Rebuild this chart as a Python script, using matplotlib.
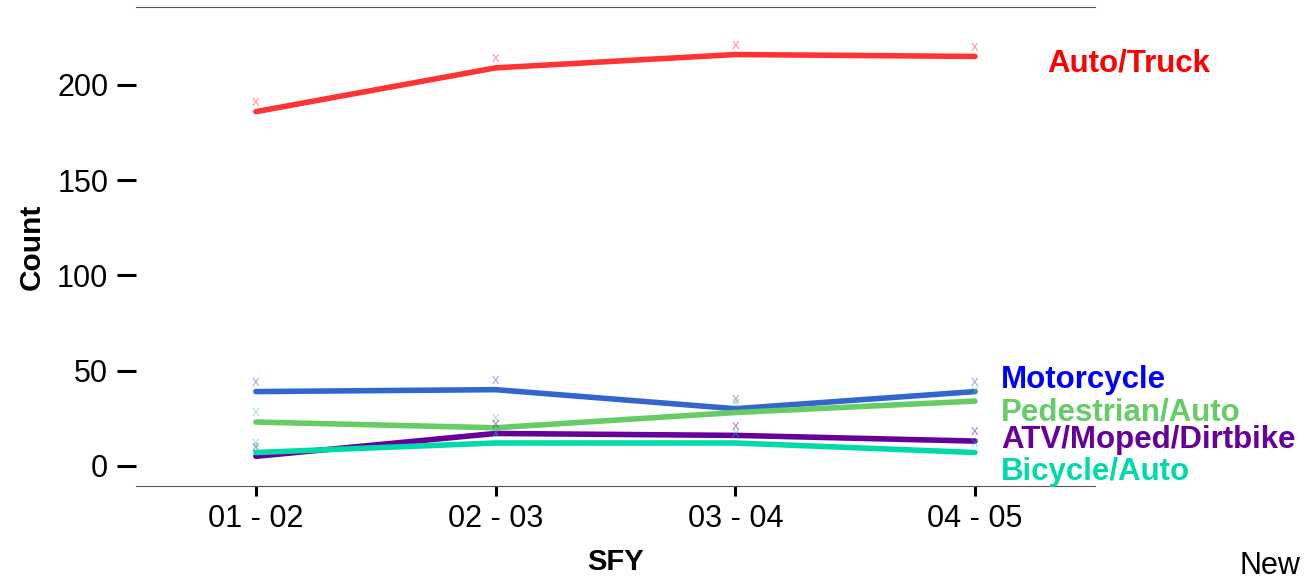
import numpy as np
import matplotlib
matplotlib.use("Agg")
import matplotlib.pyplot as plt

plt.rcParams['font.family'] = ['Liberation Sans', 'DejaVu Sans']

sfy = ["01 - 02", "02 - 03", "03 - 04", "04 - 05"]
auto_truck = [186, 209, 216, 215]
motorcycle = [39, 40, 30, 39]
pedestrian = [23, 20, 28, 34]
atv = [5, 17, 16, 13]
bicycle = [7, 12, 12, 7]

series = [
    ("Auto/Truck", auto_truck, "#FF3333", "#FF0000"),
    ("Motorcycle", motorcycle, "#3366CC", "#0000FF"),
    ("Pedestrian/Auto", pedestrian, "#66CC66", "#66CC66"),
    ("ATV/Moped/Dirtbike", atv, "#660099", "#660099"),
    ("Bicycle/Auto", bicycle, "#00D9AA", "#00D9AA"),
]
# label anchor (x, y in data units)
label_pos = {
    "Auto/Truck": (3.30, 211.5),
    "Motorcycle": (3.11, 45),
    "Pedestrian/Auto": (3.11, 28),
    "ATV/Moped/Dirtbike": (3.11, 13.5),
    "Bicycle/Auto": (3.11, -3),
}

fig, ax = plt.subplots(figsize=(13.08, 5.77), dpi=100)
fig.subplots_adjust(left=0.104, right=0.837, top=0.988, bottom=0.158)

x = np.arange(len(sfy))
for name, vals, lc, tc in series:
    ax.plot(x, vals, color=lc, lw=4, solid_capstyle='round', zorder=3)
    for xi, yi in zip(x, vals):
        ax.annotate("x", (xi, yi), xytext=(0, 2), textcoords='offset points',
                    ha='center', va='bottom', fontsize=11, color=lc, alpha=0.5)
    lx, ly = label_pos[name]
    ax.text(lx, ly, name, color=tc, fontsize=22.5, fontweight='bold',
            ha='left', va='center', clip_on=False)

ax.set_xlim(-0.5, 3.5)
ax.set_ylim(-10.5, 241)
ax.set_xticks(x)
ax.set_xticklabels(sfy)
ax.set_yticks([0, 50, 100, 150, 200])

for s in ['left', 'right']:
    ax.spines[s].set_visible(False)
for s in ['top', 'bottom']:
    ax.spines[s].set_color('#555555')
    ax.spines[s].set_linewidth(0.8)

ax.tick_params(axis='y', length=14, width=2.2, labelsize=22, pad=6)
ax.tick_params(axis='x', length=7, width=2.2, labelsize=22, pad=6)

ax.set_ylabel("Count", fontsize=21.5, fontweight='bold', labelpad=8)
ax.set_xlabel("SFY", fontsize=21, fontweight='bold', labelpad=10)

fig.text(1240/1308, 1 - 566/577, "New", fontsize=22, ha='left', va='center')

plt.savefig("out.png", dpi=100)
plt.close()
